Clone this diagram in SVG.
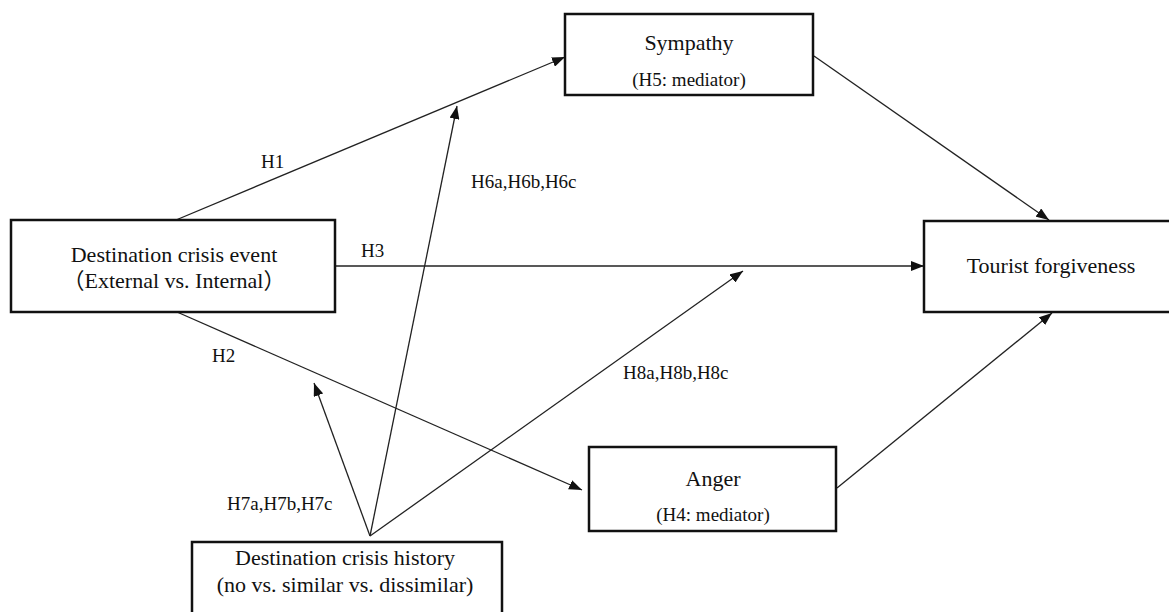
<svg xmlns="http://www.w3.org/2000/svg" width="1169" height="612" viewBox="0 0 1169 612">
<style>
.box{fill:#fff;stroke:#111;stroke-width:2.5}
.t{font-family:"Liberation Serif","Times New Roman","Noto Sans CJK SC",serif;font-size:22px;fill:#111;text-anchor:middle}
.s{font-family:"Liberation Serif","Times New Roman","Noto Sans CJK SC",serif;font-size:19px;fill:#111}
.c{fill:none;stroke:#222;stroke-width:1.3}
</style>
<defs>
<marker id="ah" markerUnits="userSpaceOnUse" markerWidth="14" markerHeight="10" refX="13" refY="5" orient="auto">
<path d="M0,0 L13,5 L0,10 Z" fill="#111"/>
</marker>
</defs>
<g id="connectors">
<line class="c" x1="176" y1="220" x2="565" y2="57" marker-end="url(#ah)"/>
<line class="c" x1="177" y1="312" x2="582" y2="490" marker-end="url(#ah)"/>
<line class="c" x1="335" y1="266" x2="924" y2="266" marker-end="url(#ah)"/>
<line class="c" x1="370" y1="536" x2="457" y2="106" marker-end="url(#ah)"/>
<line class="c" x1="370" y1="536" x2="314" y2="383" marker-end="url(#ah)"/>
<line class="c" x1="370" y1="536" x2="743" y2="271" marker-end="url(#ah)"/>
<line class="c" x1="814" y1="56" x2="1049" y2="220" marker-end="url(#ah)"/>
<line class="c" x1="837" y1="488" x2="1052" y2="313" marker-end="url(#ah)"/>
<text class="s" x="261" y="168">H1</text>
<text class="s" x="212" y="362">H2</text>
<text class="s" x="361" y="257">H3</text>
<text class="s" x="471" y="188">H6a,H6b,H6c</text>
<text class="s" x="227" y="510">H7a,H7b,H7c</text>
<text class="s" x="623" y="379">H8a,H8b,H8c</text>
</g>
<g id="sympathy">
<rect class="box" x="565" y="14" width="248" height="81"/>
<text class="t" x="689" y="50">Sympathy</text>
<text class="t" x="689" y="86" style="font-size:19px">(H5: mediator)</text>
</g>
<g id="event">
<rect class="box" x="11" y="220" width="324" height="92"/>
<text class="t" x="174" y="262">Destination crisis event</text>
<text class="t" x="174" y="288">（External vs. Internal）</text>
</g>
<g id="forgiveness">
<rect class="box" x="924" y="221" width="252" height="91"/>
<text class="t" x="1051" y="273">Tourist forgiveness</text>
</g>
<g id="anger">
<rect class="box" x="589" y="447" width="247" height="84"/>
<text class="t" x="713" y="486">Anger</text>
<text class="t" x="713" y="521" style="font-size:19px">(H4: mediator)</text>
</g>
<g id="history">
<rect class="box" x="192" y="542" width="310" height="80"/>
<text class="t" x="345" y="565">Destination crisis history</text>
<text class="t" x="345" y="592">(no vs. similar vs. dissimilar)</text>
</g>
</svg>
